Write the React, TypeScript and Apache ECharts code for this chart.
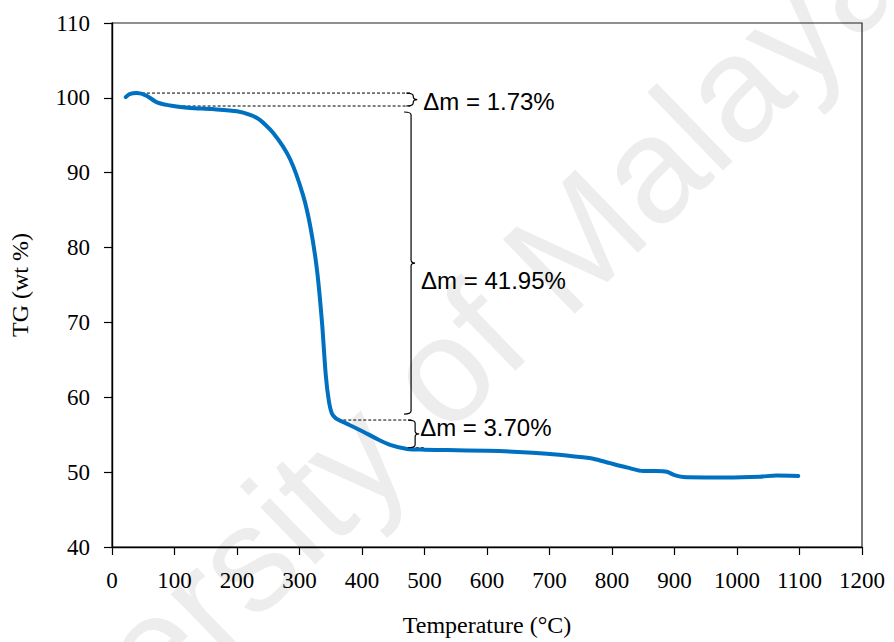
import React, { useEffect, useRef } from "react";
import * as echarts from "echarts";

// Thermogravimetric curve: temperature (°C) and remaining mass (wt %)
const temperature = [
  22, 28, 40, 55, 72, 98, 125, 160, 200, 232, 258, 285, 306, 318, 328, 336, 342, 347, 352, 358, 362,
  380, 402, 425, 445, 472, 500, 536, 600, 650, 696, 740, 770, 797, 825, 850, 870, 888, 900, 914,
  950, 983, 1037, 1063, 1098,
];
const tgWeight = [
  100.1, 100.5, 100.64, 100.3, 99.4, 98.9, 98.65, 98.5, 98.2, 97.3, 95.3, 91.8, 86.9, 82.5, 77.0, 70.0,
  63.0, 59.5, 57.8, 57.2, 57.0, 56.3, 55.4, 54.4, 53.65, 53.1, 53.0, 52.95, 52.85, 52.7, 52.45, 52.1,
  51.8, 51.2, 50.6, 50.15, 50.15, 50.05, 49.6, 49.35, 49.3, 49.3, 49.4, 49.55, 49.5,
];

// Mass-loss steps (Δm, wt %) measured from the initial plateau
const massLoss = [1.73, 41.95, 3.7];
const startLevel = 100.64;
const stepLevels = massLoss.reduce<number[]>(
  (acc, d) => [...acc, +(acc[acc.length - 1] - d).toFixed(2)],
  [startLevel]
);

// Where each dashed reference level starts and ends (°C)
const levelStart = [40, 97, 362, 462];
const levelEnd = [479, 479, 482, 500];
// Brace positions (°C) for each step
const braceTemp = [482, 478.5, 485];

const xTicks = { min: 0, max: 1200, interval: 100 };
const yTicks = { min: 40, max: 110, interval: 10 };

const serif = '"Liberation Serif", "Times New Roman", serif';
const sans = '"Liberation Sans", Arial, sans-serif';

export default function App() {
  const ref = useRef<HTMLDivElement>(null);

  useEffect(() => {
    document.body.style.margin = "0";
    const chart = echarts.init(ref.current!, null, { renderer: "svg" });

    const levelSeries = stepLevels.map((lv, i) => ({
      type: "line",
      data: [
        [levelStart[i], lv],
        [levelEnd[i], lv],
      ],
      symbol: "none",
      silent: true,
      z: 3,
      lineStyle: { color: "#000", width: 1, type: [3, 2] },
    }));

    const braceData = massLoss.map((d, i) => [braceTemp[i], stepLevels[i], stepLevels[i + 1], d]);

    chart.setOption({
      animation: false,
      backgroundColor: "#fff",
      graphic: [
        {
          type: "text",
          x: 392,
          y: 418,
          rotation: (44 * Math.PI) / 180,
          z: -10,
          silent: true,
          style: {
            text: "University of Malaya",
            font: `150px ${sans}`,
            fill: "#ededed",
            align: "center",
            verticalAlign: "middle",
          },
        },
      ],
      grid: {
        left: 112,
        right: 32,
        top: 23,
        bottom: 93,
        show: true,
        borderColor: "#222",
        borderWidth: 1.2,
        backgroundColor: "transparent",
      },
      xAxis: {
        type: "value",
        ...xTicks,
        name: "Temperature (°C)",
        nameLocation: "middle",
        nameGap: 66,
        nameTextStyle: { fontFamily: serif, fontSize: 24, color: "#000" },
        axisLine: { show: true, lineStyle: { color: "#000", width: 1.4 } },
        axisTick: { show: true, inside: false, length: 8, lineStyle: { color: "#000", width: 1.2 } },
        axisLabel: {
          fontFamily: serif,
          fontSize: 23,
          color: "#000",
          margin: 22,
          formatter: (v: number) => String(v),
        },
        splitLine: { show: false },
      },
      yAxis: {
        type: "value",
        ...yTicks,
        name: "TG (wt %)",
        nameLocation: "middle",
        nameGap: 80,
        nameTextStyle: { fontFamily: serif, fontSize: 24, color: "#000" },
        axisLine: { show: true, lineStyle: { color: "#000", width: 1.4 } },
        axisTick: { show: true, inside: false, length: 8, lineStyle: { color: "#000", width: 1.2 } },
        axisLabel: {
          fontFamily: serif,
          fontSize: 23,
          color: "#000",
          margin: 22,
          formatter: (v: number) => String(v),
        },
        splitLine: { show: false },
      },
      series: [
        ...levelSeries,
        {
          type: "custom",
          coordinateSystem: "cartesian2d",
          silent: true,
          clip: false,
          z: 5,
          data: braceData,
          renderItem: (params: any, api: any) => {
            const idx = params.dataIndex;
            const p1 = api.coord([api.value(0), api.value(1)]);
            const p2 = api.coord([api.value(0), api.value(2)]);
            const inset = idx === 1 ? 6 : 0;
            const xb = p1[0];
            const yt = p1[1] + inset;
            const yb = p2[1] - inset;
            const ym = (yt + yb) / 2;
            const w = 7;
            const c = Math.min(3, (yb - yt) / 4);
            const d =
              `M${xb - w} ${yt} Q${xb} ${yt} ${xb} ${yt + c} L${xb} ${ym - c} ` +
              `Q${xb} ${ym} ${xb + 4} ${ym} Q${xb} ${ym} ${xb} ${ym + c} ` +
              `L${xb} ${yb - c} Q${xb} ${yb} ${xb - w} ${yb}`;
            const labelDy = idx === 1 ? 17 : idx === 2 ? -6 : 2;
            const labelDx = idx === 2 ? 5 : 10;
            return {
              type: "group",
              children: [
                {
                  type: "path",
                  shape: { pathData: d },
                  style: { fill: "none", stroke: "#000", lineWidth: 1.2 },
                },
                {
                  type: "text",
                  style: {
                    text: `Δm = ${Number(api.value(3)).toFixed(2)}%`,
                    x: xb + labelDx,
                    y: ym + labelDy,
                    fill: "#000",
                    font: `24px ${sans}`,
                    align: "left",
                    verticalAlign: "middle",
                  },
                },
              ],
            };
          },
        },
        {
          type: "line",
          name: "TG",
          data: temperature.map((t, i) => [t, tgWeight[i]]),
          smooth: 0.25,
          symbol: "none",
          z: 4,
          lineStyle: { color: "#0070c0", width: 4, cap: "round", join: "round" },
        },
      ],
    });

    return () => chart.dispose();
  }, []);

  return <div ref={ref} style={{ width: 894, height: 642 }} />;
}
